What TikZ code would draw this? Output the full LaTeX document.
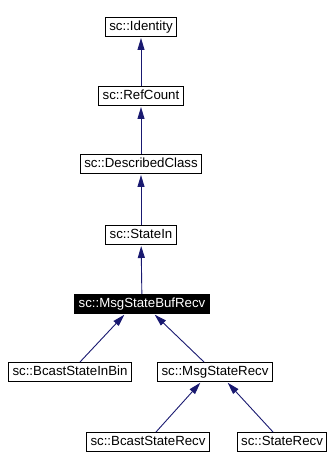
\documentclass[tikz,border=0pt]{standalone}
\usepackage{fontspec}
\setmainfont{Liberation Sans}
\usetikzlibrary{arrows.meta}
\definecolor{edgeblue}{RGB}{25,25,112}

\begin{document}
\begin{tikzpicture}[x=1bp, y=-1bp, font=\fontsize{13.3}{15}\selectfont,
    >={Triangle[length=12bp,width=7bp]},
    cls/.style={draw=black, line width=1bp, inner xsep=4bp, inner ysep=0pt,
                minimum height=19bp, text height=9.5bp, text depth=2.5bp},
    cur/.style={cls, fill=black, text=white},
    inh/.style={<-, draw=edgeblue, line width=0.9bp, shorten <=1bp}]
  \useasboundingbox (0,0) rectangle (333,470);
  % main chain
  \node[cls] (identity)  at (141,27)  {sc::Identity};
  \node[cls] (refcount)  at (141,96)  {sc::RefCount};
  \node[cls] (described) at (141,164) {sc::DescribedClass};
  \node[cls] (statein)   at (141,235) {sc::StateIn};
  \node[cur] (bufrecv)   at (142,304) {sc::MsgStateBufRecv};
  % derived classes
  \node[cls] (inbin)     at (70,372)  {sc::BcastStateInBin};
  \node[cls] (msgrecv)   at (215,372) {sc::MsgStateRecv};
  \node[cls] (bcastrecv) at (148,442) {sc::BcastStateRecv};
  \node[cls] (staterecv) at (282,442) {sc::StateRecv};

  \draw[inh] (identity) -- (refcount);
  \draw[inh] (refcount) -- (described);
  \draw[inh] (described) -- (statein);
  \draw[inh] (statein) -- (bufrecv);
  \draw[inh] ([xshift=-17bp]bufrecv.south) -- ([xshift=10bp]inbin.north);
  \draw[inh] ([xshift=12bp]bufrecv.south) -- ([xshift=-11bp]msgrecv.north);
  \draw[inh] ([xshift=-14bp]msgrecv.south) -- ([xshift=8bp]bcastrecv.north);
  \draw[inh] ([xshift=12bp]msgrecv.south) -- ([xshift=-9bp]staterecv.north);
\end{tikzpicture}
\end{document}
